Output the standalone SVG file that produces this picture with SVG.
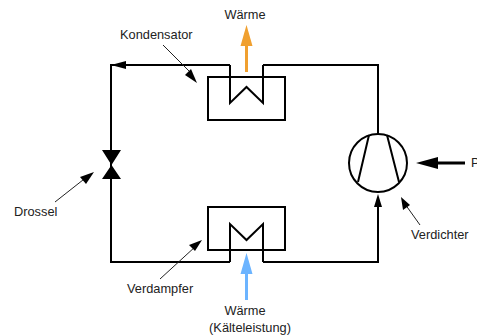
<svg xmlns="http://www.w3.org/2000/svg" width="477" height="336" viewBox="0 0 477 336">
<defs>
<style>
.l{fill:none;stroke:#000;stroke-width:2}
.a{fill:#000;stroke:none}
.c{fill:none;stroke:#222;stroke-width:1}
text{font-family:"Liberation Sans",Arial,sans-serif;font-size:12.800px;fill:#222}
</style>
</defs>
<rect width="477" height="336" fill="#fff"/>
<g id="connectors">
<path class="l" d="M230 65H111V262H230"/>
<path class="l" d="M263 262H378V200"/>
<path class="l" d="M263 65H378V134"/>
<path class="a" d="M111 65L126 61V69Z"/>
<path class="a" d="M378 194L374 207H382Z"/>
</g>
<g id="kondensator">
<rect class="l" x="208" y="77" width="77" height="43"/>
<path class="l" d="M230 65V103L246.500 87L263 103V65"/>
</g>
<g id="verdampfer">
<rect class="l" x="208" y="207" width="77" height="43"/>
<path class="l" d="M230 262V224L246.500 240L263 224V262"/>
</g>
<g id="drossel">
<path class="a" d="M102 150H121L111.500 165L121 179H102L111.500 165Z"/>
</g>
<g id="verdichter">
<circle class="l" cx="378" cy="163" r="29"/>
<path class="l" d="M369 135L358 182M387 135L399 182"/>
</g>
<g id="waerme-oben">
<rect x="245" y="44" width="3" height="28" fill="#f0a030"/>
<path d="M246.500 25L252.500 46H240.500Z" fill="#f0a030"/>
<text x="245" y="19" text-anchor="middle">Wärme</text>
</g>
<g id="waerme-unten">
<rect x="245" y="271" width="3" height="29" fill="#6cb4ff"/>
<path d="M246.500 253L252.500 274H240.500Z" fill="#6cb4ff"/>
<text x="245" y="315" text-anchor="middle">Wärme</text>
<text x="250" y="332" text-anchor="middle">(Kälteleistung)</text>
</g>
<g id="label-kondensator">
<text x="120" y="39">Kondensator</text>
<path class="c" d="M163 45L192 74"/>
<path class="a" d="M197 83L185 75L191 69Z"/>
</g>
<g id="label-drossel">
<text x="14" y="216">Drossel</text>
<path class="c" d="M55 202L88 176"/>
<path class="a" d="M94 172L86 184L80 177Z"/>
</g>
<g id="label-verdampfer">
<text x="127" y="293">Verdampfer</text>
<path class="c" d="M160 279L196 246"/>
<path class="a" d="M202 240L195 251L189 245Z"/>
</g>
<g id="label-verdichter">
<text x="411" y="239">Verdichter</text>
<path class="c" d="M420 225L405 204"/>
<path class="a" d="M401 197L410 205L403 210Z"/>
</g>
<g id="antrieb">
<rect x="432" y="161.500" width="33" height="3" fill="#000"/>
<path class="a" d="M416 163L438 157V169Z"/>
<text x="471" y="167">P</text>
</g>
</svg>
